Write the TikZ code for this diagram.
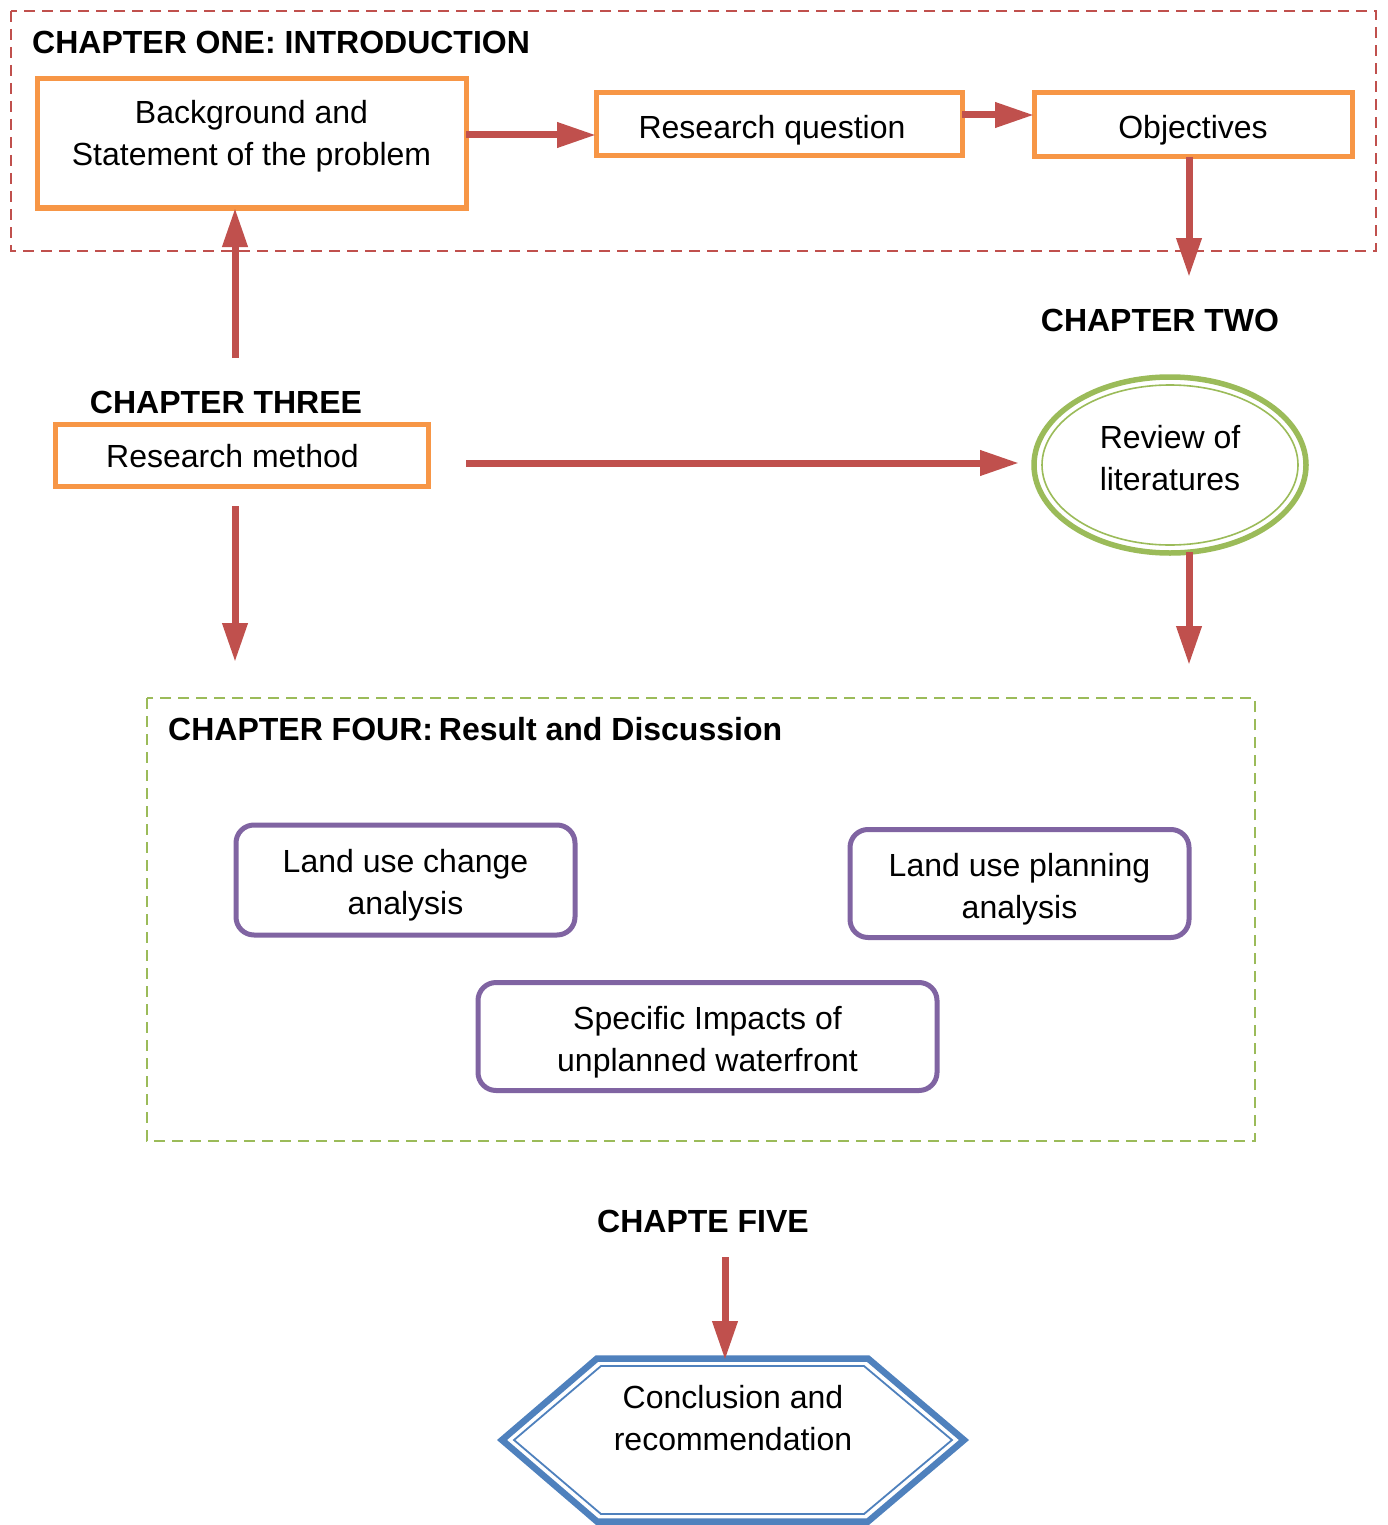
\documentclass[tikz,border=0pt]{standalone}
\usepackage{fontspec}
\setmainfont{Liberation Sans}
\usetikzlibrary{arrows.meta,shapes.geometric}
\definecolor{orangeC}{HTML}{F79646}
\definecolor{redC}{HTML}{C0504D}
\definecolor{greenC}{HTML}{9BBB59}
\definecolor{blueC}{HTML}{4F81BD}
\definecolor{purpleC}{HTML}{8064A2}
\newcommand{\liftup}[2]{\raisebox{#1}[\height][\depth]{\begin{tabular}{@{}c@{}}#2\end{tabular}}}
\begin{document}
\begin{tikzpicture}[x=1pt,y=-1pt,
  font=\fontsize{32}{42}\selectfont,
  arr/.style={draw=redC, line width=7pt, -{Triangle[length=39pt,width=24pt]}},
  obox/.style={draw=orangeC, line width=5pt, inner sep=0pt, outer sep=0pt, align=center, fill=white},
  pbox/.style={draw=purpleC, line width=5pt, rounded corners=18pt, inner sep=0pt, outer sep=0pt, align=center, fill=white},
  chap/.style={font=\fontsize{32}{42}\selectfont\bfseries, inner sep=0pt},
  frame/.style={line width=2.4pt, dash pattern=on 11pt off 7pt}
]
\useasboundingbox[fill=white] (0,0) rectangle (1387,1525);

% chapter frames
\draw[frame, draw=redC] (11,11) rectangle (1376,251);
\draw[frame, draw=greenC] (147,698) rectangle (1255,1141);

% chapter one
\node[chap, anchor=west] (ch1) at (32,42) {CHAPTER ONE: INTRODUCTION};
\node[obox, minimum width=429pt, minimum height=129pt] (bg) at (251.5,143.5)
  {\liftup{7pt}{Background and\\Statement of the problem}};
\node[obox, minimum width=366pt, minimum height=63pt] (rq) at (779,124.5)
  {\liftup{-6pt}{\hspace*{-14pt}Research question}};
\node[obox, minimum width=318pt, minimum height=64pt] (obj) at (1193,125)
  {\liftup{-5pt}{Objectives}};

% chapter two
\node[chap] (ch2) at (1160,320) {CHAPTER TWO};
\node[ellipse, draw=greenC, line width=5.5pt, minimum width=272pt, minimum height=176pt,
      inner sep=0pt, outer sep=0pt, align=center] (rev) at (1170,465)
  {\liftup{4pt}{Review of\\literatures}};
\draw[greenC, line width=1.6pt] (rev.center) ellipse [x radius=128pt, y radius=80pt];

% chapter three
\node[chap] (ch3) at (226,402) {CHAPTER THREE};
\node[obox, minimum width=373pt, minimum height=62pt] (rm) at (241.5,455)
  {\liftup{-4pt}{\hspace*{-18pt}Research method}};

% chapter four
\node[chap, anchor=west] (ch4) at (168,729) {CHAPTER FOUR:\hspace{-3pt} Result and Discussion};
\node[pbox, minimum width=339pt, minimum height=110pt] (lu1) at (405.5,880)
  {\liftup{-5pt}{Land use change\\analysis}};
\node[pbox, minimum width=339pt, minimum height=108pt] (lu2) at (1019.5,883.5)
  {\liftup{-6pt}{Land use planning\\analysis}};
\node[pbox, minimum width=459pt, minimum height=108pt] (imp) at (707.5,1036.5)
  {\liftup{-6pt}{Specific Impacts of\\unplanned waterfront}};

% chapter five
\node[chap] (ch5) at (703,1221) {CHAPTE FIVE};
\coordinate (hc) at (733,1440);
\draw[blueC, line width=6.5pt, line join=miter]
  (502,1440) -- (597,1358.5) -- (868,1358.5) -- (964,1440) -- (868,1521.5) -- (597,1521.5) -- cycle;
\draw[blueC, line width=1.8pt, line join=miter]
  (514,1440) -- (601,1366) -- (864,1366) -- (952,1440) -- (864,1514) -- (601,1514) -- cycle;
\node[align=center, inner sep=0pt] (con) at (hc) {\liftup{19pt}{Conclusion and\\recommendation}};

% connector end points
\coordinate (objEnd) at (1189,277);
\coordinate (rmUpStart) at (235,358);
\coordinate (rmRight) at (466,463);
\coordinate (revLeft) at (1019,463);
\coordinate (rmDownStart) at (235,506);
\coordinate (rmDownEnd) at (235,662);
\coordinate (revDownStart) at (1189,552);
\coordinate (revDownEnd) at (1189,665);
\coordinate (ch5Start) at (725,1257);
\coordinate (hexTop) at (725,1360);

% connectors
\draw[arr] ([yshift=8.5pt]bg.east) -- ([yshift=8.5pt]bg.east -| rq.west);
\draw[arr] ([yshift=9.5pt]rq.east) -- ([yshift=9.5pt]rq.east -| obj.west);
\draw[arr] (obj.south -| objEnd) -- (objEnd);
\draw[arr] (rmUpStart) -- (rmUpStart |- bg.south);
\draw[arr] (rmRight) -- (revLeft);
\draw[arr] (rmDownStart) -- (rmDownEnd);
\draw[arr] (revDownStart) -- (revDownEnd);
\draw[arr] (ch5Start) -- (hexTop);
\end{tikzpicture}
\end{document}
